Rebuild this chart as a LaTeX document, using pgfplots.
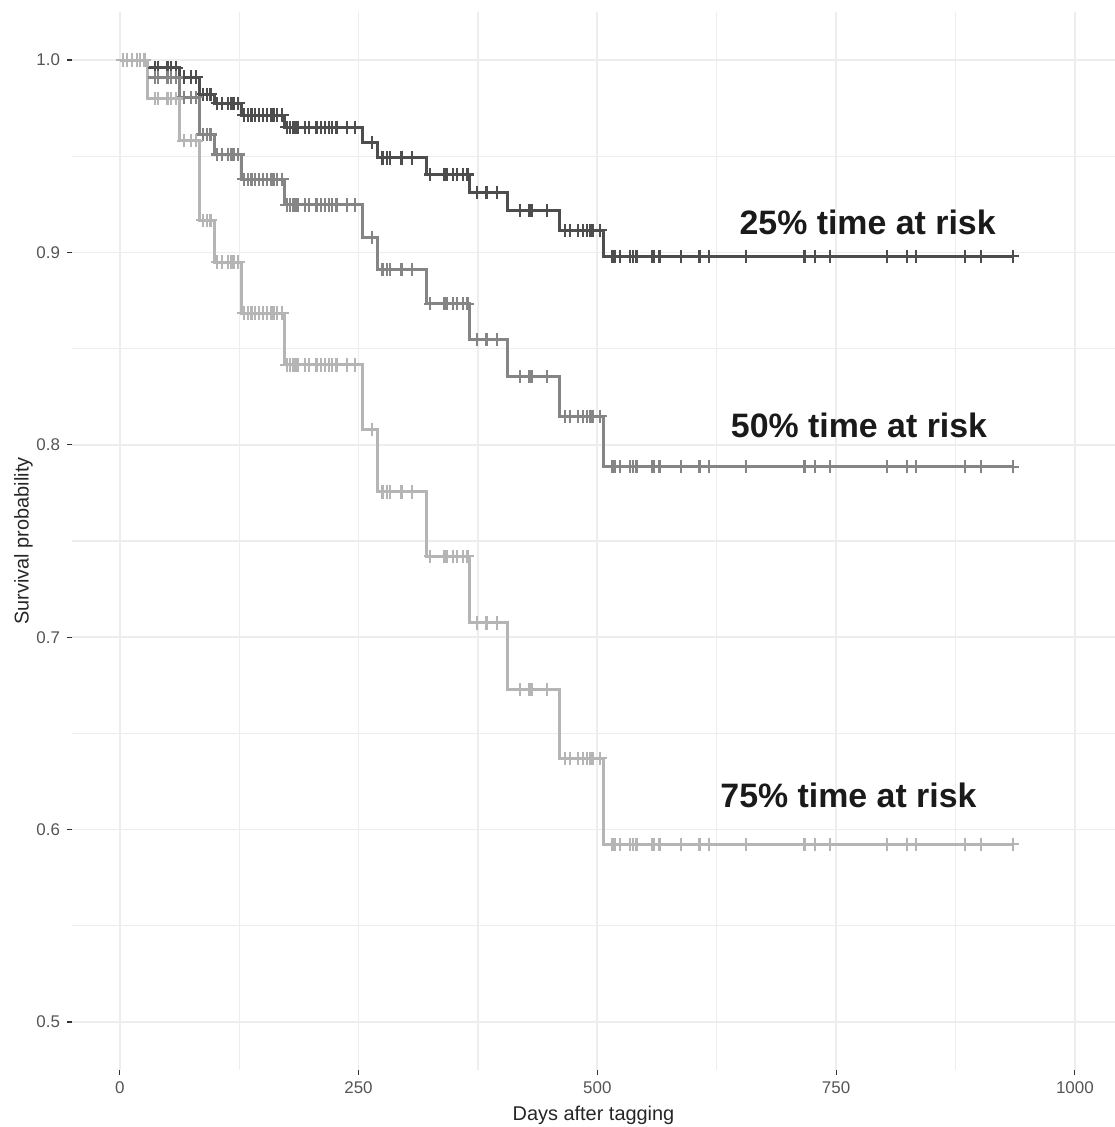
\documentclass[border=0pt]{standalone}
\usepackage{fontspec}
\setmainfont{Liberation Sans}
\usepackage{pgfplots}
\usepackage{pgfplotstable}
\pgfplotsset{compat=1.18}
\definecolor{cdark}{HTML}{4D4D4D}
\definecolor{cmed}{HTML}{858585}
\definecolor{clight}{HTML}{B5B5B5}
\definecolor{gridc}{HTML}{EDEDED}
\definecolor{labc}{HTML}{555555}
\definecolor{annc}{HTML}{1A1A1A}

\pgfplotstableread{
t d m l
0 1 1 1
29.3 0.9959 0.9909 0.980
62.8 0.9912 0.9807 0.958
83.8 0.9823 0.9613 0.9168
99.5 0.9775 0.9509 0.895
127.7 0.9714 0.9380 0.8685
172.8 0.9651 0.9247 0.8415
254.5 0.9571 0.9078 0.808
270.2 0.9491 0.8911 0.7755
321.5 0.9405 0.8734 0.742
366.5 0.9313 0.8546 0.7074
406.3 0.9218 0.8355 0.673
460.7 0.9115 0.8149 0.637
506.8 0.8980 0.7886 0.5924
935 0.8980 0.7886 0.5924
}\steps

\pgfplotstableread{
t d m l
3 1 1 1
8 1 1 1
13 1 1 1
18 1 1 1
21 1 1 1
26 1 1 1
37 0.9959 0.9909 0.980
40 0.9959 0.9909 0.980
50 0.9959 0.9909 0.980
54 0.9959 0.9909 0.980
59 0.9959 0.9909 0.980
67 0.9912 0.9807 0.958
75 0.9912 0.9807 0.958
80 0.9912 0.9807 0.958
87 0.9823 0.9613 0.9168
91 0.9823 0.9613 0.9168
95 0.9823 0.9613 0.9168
102 0.9775 0.9509 0.895
107 0.9775 0.9509 0.895
113 0.9775 0.9509 0.895
117 0.9775 0.9509 0.895
120 0.9775 0.9509 0.895
124 0.9775 0.9509 0.895
130 0.9714 0.9380 0.8685
134 0.9714 0.9380 0.8685
138 0.9714 0.9380 0.8685
142 0.9714 0.9380 0.8685
146 0.9714 0.9380 0.8685
150 0.9714 0.9380 0.8685
154 0.9714 0.9380 0.8685
158 0.9714 0.9380 0.8685
161 0.9714 0.9380 0.8685
165 0.9714 0.9380 0.8685
170 0.9714 0.9380 0.8685
175 0.9651 0.9247 0.8415
178 0.9651 0.9247 0.8415
181 0.9651 0.9247 0.8415
184 0.9651 0.9247 0.8415
187 0.9651 0.9247 0.8415
194 0.9651 0.9247 0.8415
198 0.9651 0.9247 0.8415
206 0.9651 0.9247 0.8415
211 0.9651 0.9247 0.8415
215 0.9651 0.9247 0.8415
219 0.9651 0.9247 0.8415
222 0.9651 0.9247 0.8415
227 0.9651 0.9247 0.8415
238 0.9651 0.9247 0.8415
246 0.9651 0.9247 0.8415
264 0.9571 0.9078 0.808
275 0.9491 0.8911 0.7755
280 0.9491 0.8911 0.7755
283 0.9491 0.8911 0.7755
295 0.9491 0.8911 0.7755
306 0.9491 0.8911 0.7755
325 0.9405 0.8734 0.742
340 0.9405 0.8734 0.742
343 0.9405 0.8734 0.742
349 0.9405 0.8734 0.742
353 0.9405 0.8734 0.742
359 0.9405 0.8734 0.742
364 0.9405 0.8734 0.742
374 0.9313 0.8546 0.7074
384 0.9313 0.8546 0.7074
395 0.9313 0.8546 0.7074
419 0.9218 0.8355 0.673
429 0.9218 0.8355 0.673
432 0.9218 0.8355 0.673
447 0.9218 0.8355 0.673
466 0.9115 0.8149 0.637
471 0.9115 0.8149 0.637
480 0.9115 0.8149 0.637
485 0.9115 0.8149 0.637
489 0.9115 0.8149 0.637
492 0.9115 0.8149 0.637
495 0.9115 0.8149 0.637
503 0.9115 0.8149 0.637
515 0.8980 0.7886 0.5924
518 0.8980 0.7886 0.5924
524 0.8980 0.7886 0.5924
534 0.8980 0.7886 0.5924
537 0.8980 0.7886 0.5924
541 0.8980 0.7886 0.5924
557 0.8980 0.7886 0.5924
559 0.8980 0.7886 0.5924
565 0.8980 0.7886 0.5924
588 0.8980 0.7886 0.5924
607 0.8980 0.7886 0.5924
617 0.8980 0.7886 0.5924
656 0.8980 0.7886 0.5924
717 0.8980 0.7886 0.5924
728 0.8980 0.7886 0.5924
744 0.8980 0.7886 0.5924
803 0.8980 0.7886 0.5924
824 0.8980 0.7886 0.5924
834 0.8980 0.7886 0.5924
885 0.8980 0.7886 0.5924
902 0.8980 0.7886 0.5924
935 0.8980 0.7886 0.5924
}\cens

\begin{document}
\begin{tikzpicture}
\path[use as bounding box] (-36bp,-28.5bp) rectangle (521.5bp,535bp);
\begin{axis}[
  scale only axis,
  width=521.5bp, height=529bp,
  xmin=-50, xmax=1042,
  ymin=0.475, ymax=1.025,
  axis line style={draw=none},
  xtick={0,250,500,750,1000},
  xticklabels={0,250,500,750,1000},
  ytick={0.5,0.6,0.7,0.8,0.9,1.0},
  yticklabels={0.5,0.6,0.7,0.8,0.9,1.0},
  minor xtick={125,375,625,875},
  minor ytick={0.55,0.65,0.75,0.85,0.95},
  xtick pos=lower, ytick pos=left,
  tick align=outside,
  major tick length=2.5bp,
  minor tick length=0pt,
  tick style={color=black!80, line width=0.6bp},
  grid=both,
  major grid style={color=gridc, line width=0.9bp},
  minor grid style={color=gridc, line width=0.6bp},
  ticklabel style={font=\fontsize{8.5}{10}\selectfont, text=labc},
  label style={font=\fontsize{10}{12}\selectfont, text=black!85},
  xlabel={Days after tagging},
  ylabel={Survival probability},
  xlabel style={yshift=1bp},
  ylabel style={yshift=-5bp},
  clip=false,
]
\addplot[const plot, cdark, line width=1.5bp] table[x=t, y=d] {\steps};
\addplot[const plot, cmed, line width=1.5bp] table[x=t, y=m] {\steps};
\addplot[const plot, clight, line width=1.5bp] table[x=t, y=l] {\steps};
\addplot[only marks, mark=+, mark size=3.3bp, cdark, mark options={line width=1.1bp}] table[x=t, y=d] {\cens};
\addplot[only marks, mark=+, mark size=3.3bp, cmed, mark options={line width=1.1bp}] table[x=t, y=m] {\cens};
\addplot[only marks, mark=+, mark size=3.3bp, clight, mark options={line width=1.1bp}] table[x=t, y=l] {\cens};
\node[font=\bfseries\fontsize{17}{20}\selectfont, text=annc] at (axis cs:783,0.9158) {25\% time at risk};
\node[font=\bfseries\fontsize{17}{20}\selectfont, text=annc] at (axis cs:774,0.8103) {50\% time at risk};
\node[font=\bfseries\fontsize{17}{20}\selectfont, text=annc] at (axis cs:763,0.618) {75\% time at risk};
\end{axis}
\end{tikzpicture}
\end{document}
